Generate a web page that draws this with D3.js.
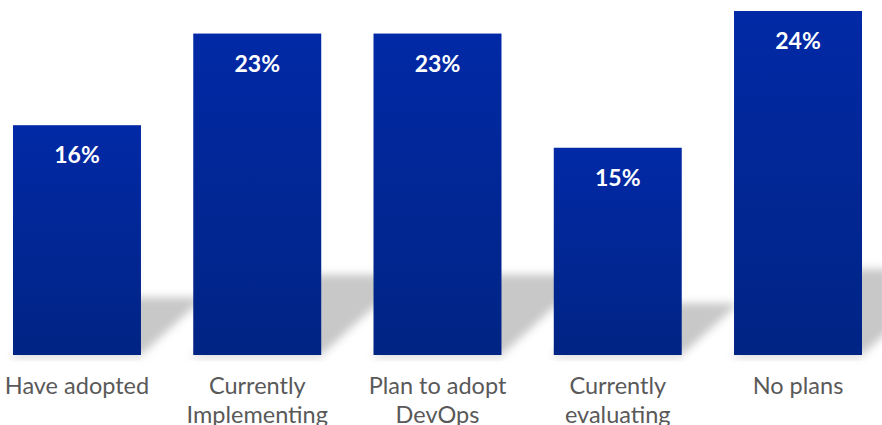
<!DOCTYPE html>
<html><head><meta charset="utf-8">
<script src="https://cdn.jsdelivr.net/npm/d3@7"></script>
<style>html,body{margin:0;padding:0;background:#fff;}svg{display:block;}</style>
</head><body>
<svg id="chart" width="882" height="425"></svg>
<script>
const categories = [["Have adopted"], ["Currently", "Implementing"], ["Plan to adopt", "DevOps"], ["Currently", "evaluating"], ["No plans"]];
const values = [16.3, 22.8, 22.8, 14.7, 24.4];
const valueLabels = ["16%", "23%", "23%", "15%", "24%"];

const svg = d3.select("#chart");
const bottomY = 355;

const x = d3.scaleBand().domain(d3.range(values.length)).range([13, 862]).paddingInner(0.29).paddingOuter(0);
const y = d3.scaleLinear().domain([0, 24.4]).range([bottomY, 11]);

const defs = svg.append("defs");
const grad = defs.append("linearGradient").attr("id", "barGrad").attr("x1", 0).attr("y1", 0).attr("x2", 0).attr("y2", 1);
grad.append("stop").attr("offset", "0%").attr("stop-color", "#0229a6");
grad.append("stop").attr("offset", "100%").attr("stop-color", "#002484");
const blur = defs.append("filter").attr("id", "blur").attr("x", "-50%").attr("y", "-50%").attr("width", "200%").attr("height", "200%");
blur.append("feGaussianBlur").attr("stdDeviation", 4);

// shadows
const s = 0.25;
svg.append("g").selectAll("path").data(values).join("path")
  .attr("d", (d, i) => {
    const x0 = x(i), x1 = x(i) + x.bandwidth();
    const h = bottomY - y(d);
    const sh = s * h, dx = 1.1 * sh;
    return `M${x0},${bottomY}L${x1},${bottomY}L${x1 + dx},${bottomY - sh}L${x0 + dx},${bottomY - sh}Z`;
  })
  .attr("fill", "#c8c8c8")
  .attr("filter", "url(#blur)");

// bottom faint shadow
svg.append("g").selectAll("rect").data(values).join("rect")
  .attr("x", (d, i) => x(i)).attr("y", bottomY - 2)
  .attr("width", x.bandwidth()).attr("height", 5)
  .attr("fill", "#e6e6e6").attr("filter", "url(#blur)");

svg.append("g").selectAll("rect").data(values).join("rect")
  .attr("x", (d, i) => x(i)).attr("y", d => y(d))
  .attr("width", x.bandwidth()).attr("height", d => bottomY - y(d))
  .attr("fill", "url(#barGrad)");

svg.append("g").selectAll("text").data(values).join("text")
  .attr("x", (d, i) => x(i) + x.bandwidth() / 2)
  .attr("y", d => y(d) + 38)
  .attr("text-anchor", "middle")
  .attr("fill", "#fff")
  .attr("font-family", "Lato, 'Open Sans', sans-serif")
  .attr("font-weight", "bold")
  .attr("font-size", 23)
  .text((d, i) => valueLabels[i]);

const cat = svg.append("g").selectAll("text").data(categories).join("text")
  .attr("x", (d, i) => x(i) + x.bandwidth() / 2)
  .attr("y", 394)
  .attr("text-anchor", "middle")
  .attr("fill", "#595959")
  .attr("font-family", "Lato, 'Open Sans', sans-serif")
  .attr("font-size", 23.5);
cat.selectAll("tspan").data(d => d).join("tspan")
  .attr("x", function() { return this.parentNode.getAttribute("x"); })
  .attr("dy", (d, j) => j === 0 ? 0 : 29)
  .text(d => d);
</script>
</body></html>
